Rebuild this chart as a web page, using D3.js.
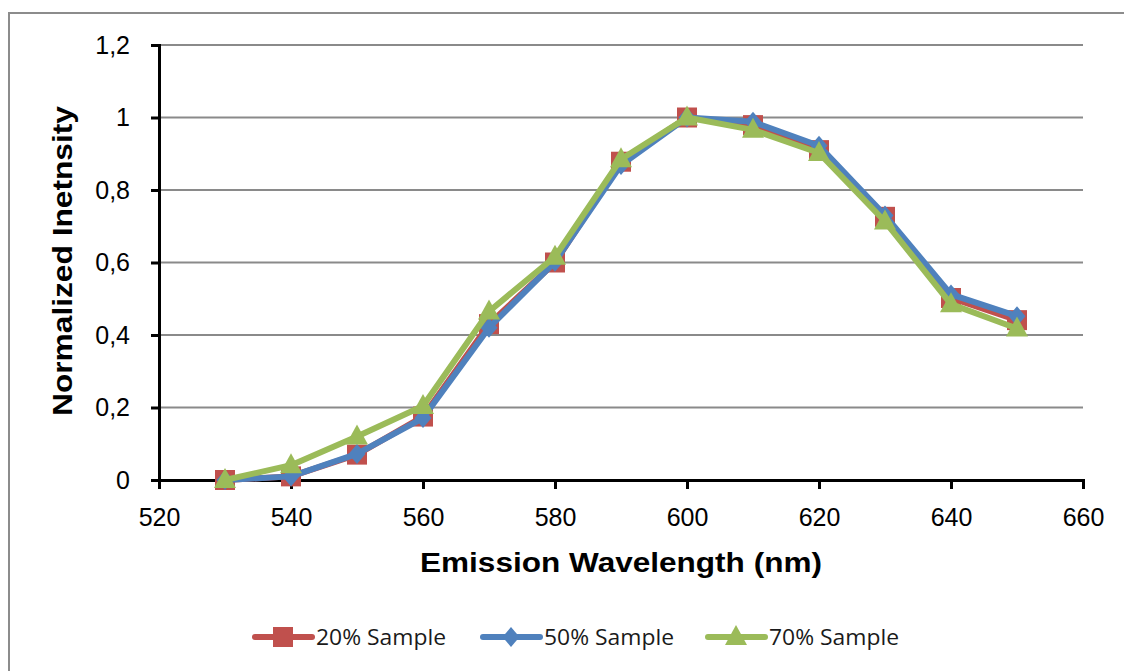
<!DOCTYPE html>
<html>
<head>
<meta charset="utf-8">
<script src="https://cdn.jsdelivr.net/npm/d3@7"></script>
<style>
  html, body { margin: 0; padding: 0; background: #fff; }
  svg { display: block; }
</style>
</head>
<body>
<svg id="chart" width="1124" height="671"></svg>
<script>
// Emission wavelengths (nm)
const wavelengths = [530, 540, 550, 560, 570, 580, 590, 600, 610, 620, 630, 640, 650];

// Normalized intensity per sample
const sample20 = [0, 0.01, 0.07, 0.175, 0.43, 0.60, 0.878, 1.0, 0.979, 0.91, 0.726, 0.502, 0.441];
const sample50 = [0, 0.01, 0.072, 0.171, 0.42, 0.602, 0.869, 1.0, 0.988, 0.922, 0.73, 0.512, 0.452];
const sample70 = [0, 0.041, 0.12, 0.204, 0.465, 0.616, 0.885, 1.0, 0.966, 0.902, 0.713, 0.485, 0.418];

const seriesNames = ["20% Sample", "50% Sample", "70% Sample"];
const seriesColors = ["#C0504D", "#4F81BD", "#9BBB59"];
const seriesShapes = ["square", "diamond", "triangle"];

const xTicks = [520, 540, 560, 580, 600, 620, 640, 660];
const yTicks = [0, 0.2, 0.4, 0.6, 0.8, 1.0, 1.2];

const svg = d3.select("#chart");
const font = "Arial, 'Liberation Sans', Helvetica, sans-serif";

// Outer frame
svg.append("rect")
  .attr("x", 9).attr("y", 13)
  .attr("width", 1200).attr("height", 800)
  .attr("fill", "none")
  .attr("stroke", "#8c8c8c")
  .attr("stroke-width", 2);

const x = d3.scaleLinear().domain([520, 660]).range([159, 1083]);
const y = d3.scaleLinear().domain([0, 1.2]).range([480, 45]);

const fmt = v => (v === 0 ? "0" : (Math.round(v * 10) / 10).toString().replace(".", ","));

// Horizontal gridlines
svg.append("g")
  .selectAll("line")
  .data(yTicks.filter(t => t > 0))
  .join("line")
  .attr("x1", x(520)).attr("x2", x(660))
  .attr("y1", d => y(d)).attr("y2", d => y(d))
  .attr("stroke", "#8a8a8a")
  .attr("stroke-width", 2);

// Y axis
const yAxis = svg.append("g")
  .attr("transform", `translate(${x(520)},0)`)
  .call(d3.axisLeft(y).tickValues(yTicks).tickFormat(fmt).tickSize(8).tickPadding(21));
yAxis.attr("font-family", null);
yAxis.select(".domain").attr("stroke", "#000").attr("stroke-width", 3);
yAxis.selectAll(".tick line").attr("stroke", "#000").attr("stroke-width", 3);
yAxis.selectAll("text")
  .style("font-family", font).style("font-size", "25px").attr("fill", "#000");

// X axis
const xAxis = svg.append("g")
  .attr("transform", `translate(0,${y(0)})`)
  .call(d3.axisBottom(x).tickValues(xTicks).tickFormat(d3.format("d")).tickSize(9).tickPadding(19));
xAxis.attr("font-family", null);
xAxis.select(".domain").attr("stroke", "#000").attr("stroke-width", 3);
xAxis.selectAll(".tick line").attr("stroke", "#000").attr("stroke-width", 3);
xAxis.selectAll("text")
  .style("font-family", font).style("font-size", "25px").attr("fill", "#000");

// Axis titles
svg.append("text")
  .attr("x", 621).attr("y", 572)
  .attr("text-anchor", "middle")
  .attr("textLength", 402).attr("lengthAdjust", "spacingAndGlyphs")
  .style("font-family", font).style("font-size", "27px").style("font-weight", "bold")
  .text("Emission Wavelength (nm)");

svg.append("text")
  .attr("transform", "translate(72,261) rotate(-90)")
  .attr("text-anchor", "middle")
  .attr("textLength", 310).attr("lengthAdjust", "spacingAndGlyphs")
  .style("font-family", font).style("font-size", "27px").style("font-weight", "bold")
  .text("Normalized Inetnsity");

// Marker shapes
function markerPath(shape) {
  if (shape === "square") return d3.symbol(d3.symbolSquare, 400)();
  if (shape === "diamond") return "M0,-10L8.5,0L0,10L-8.5,0Z";
  return "M0,-12L11,8L-11,8Z";
}

const allSeries = [sample20, sample50, sample70];
const line = d3.line().x((d, i) => x(wavelengths[i])).y(d => y(d));

allSeries.forEach((vals, k) => {
  const g = svg.append("g");
  g.append("path")
    .datum(vals)
    .attr("d", line)
    .attr("fill", "none")
    .attr("stroke", seriesColors[k])
    .attr("stroke-width", 6)
    .attr("stroke-linejoin", "round")
    .attr("stroke-linecap", "round");
  g.selectAll("path.marker")
    .data(vals)
    .join("path")
    .attr("class", "marker")
    .attr("transform", (d, i) => `translate(${x(wavelengths[i])},${y(d)})`)
    .attr("d", markerPath(seriesShapes[k]))
    .attr("fill", seriesColors[k]);
});

// Legend
const legendX = [255, 483, 708];
const legend = svg.append("g");
seriesNames.forEach((name, k) => {
  const lx = legendX[k];
  const ly = 637;
  legend.append("line")
    .attr("x1", lx).attr("x2", lx + 57)
    .attr("y1", ly).attr("y2", ly)
    .attr("stroke", seriesColors[k])
    .attr("stroke-width", 6)
    .attr("stroke-linecap", "round");
  legend.append("path")
    .attr("transform", `translate(${lx + 28},${ly})`)
    .attr("d", markerPath(seriesShapes[k]))
    .attr("fill", seriesColors[k]);
  legend.append("text")
    .attr("x", lx + 61).attr("y", ly + 8)
    .attr("textLength", 130).attr("lengthAdjust", "spacingAndGlyphs")
    .style("font-family", "'Open Sans', sans-serif")
    .style("font-size", "22px")
    .attr("fill", "#1a1a1a")
    .text(name);
});
</script>
</body>
</html>
